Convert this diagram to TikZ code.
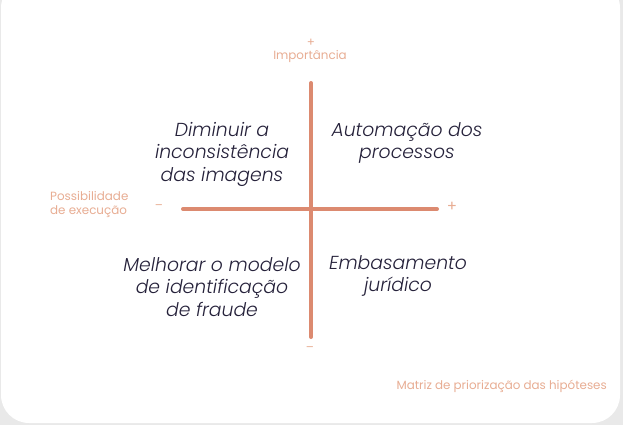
\documentclass[tikz,border=0pt]{standalone}
\usepackage{fontspec}
\setmainfont{Poppins}[UprightFont=* Light, ItalicFont=* Light Italic]
\newfontfamily\popreg{Poppins}
\usepackage{xcolor}
\usepackage{tikz}
\usetikzlibrary{positioning,calc}

\definecolor{cardgray}{HTML}{E9E9E9}
\definecolor{axiscolor}{HTML}{DC8A70}
\definecolor{labelcolor}{HTML}{E8AD93}
\definecolor{textdark}{HTML}{25213A}

\tikzset{
    quadtext/.style={align=center, font=\fontsize{18.8}{22.5}\selectfont\itshape, text=textdark, inner sep=0pt},
    axislabel/.style={font=\popreg\fontsize{11.9}{14}\selectfont, text=labelcolor, inner sep=0pt},
    axisline/.style={axiscolor, line width=4pt, line cap=round}
}

\begin{document}
\begin{tikzpicture}[x=1pt, y=-1pt]
    % Card
    \fill[cardgray] (0,0) rectangle (623,425);
    \useasboundingbox (0,0) rectangle (623,425);
    \fill[white, rounded corners=28pt] (1,-20) rectangle (620,423);

    % Axes
    \coordinate (xl) at (183,209);
    \coordinate (xr) at (437,209);
    \coordinate (yt) at (311,83);
    \coordinate (yb) at (311,337);
    \draw[axisline] (xl) -- (xr);
    \draw[axisline] (yt) -- (yb);

    % Axis labels
    \node[axislabel] (ytop) at (311,43) {+};
    \node[axislabel] (imp) at (310,57) {Importância};
    \node[axislabel] (ybot) at (310,349) {\textendash};
    \node[axislabel] (xminus) at (159,207) {\textendash};
    \node[axislabel, font=\popreg\fontsize{15}{15}\selectfont] (xplus) at (452,207) {+};
    \node[axislabel, align=left, anchor=west] (poss) at (50,205) {Possibilidade\\de execução};

    % Quadrants
    \node[quadtext] (q1) at (222,154) {Diminuir a\\inconsistência\\das imagens};
    \node[quadtext] (q2) at (407,143) {Automação dos\\processos};
    \node[quadtext] (q3) at (212,287) {Melhorar o modelo\\de identificação\\de fraude};
    \node[quadtext] (q4) at (398,276) {Embasamento\\jurídico};

    % Caption
    \node[axislabel, anchor=east] (caption) at (607,386) {Matriz de priorização das hipóteses};
\end{tikzpicture}
\end{document}
